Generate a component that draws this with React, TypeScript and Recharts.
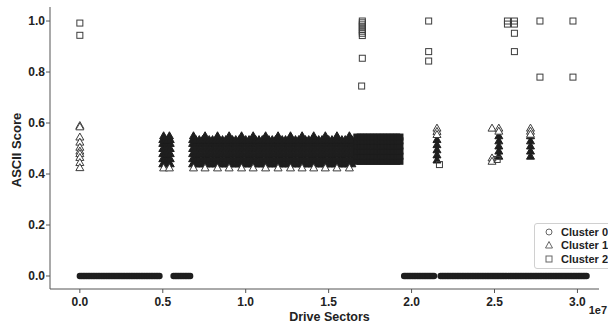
import React from "react";
import { ScatterChart, Scatter, XAxis, YAxis, Label, Legend } from "recharts";

// sector positions are in units of 1e7
const xTicks = [0, 0.5, 1.0, 1.5, 2.0, 2.5, 3.0];
const yTicks = [0, 0.2, 0.4, 0.6, 0.8, 1.0];

// cluster 0: all at score 0
const cluster0Sectors = [
  0, 0.01, 0.02, 0.03, 0.04, 0.05, 0.06, 0.07, 0.08, 0.09, 0.1, 0.11, 0.12, 0.13, 0.14, 0.15, 0.16, 0.17, 0.18, 0.19,
  0.2, 0.21, 0.22, 0.23, 0.24, 0.25, 0.26, 0.27, 0.28, 0.29, 0.3, 0.31, 0.32, 0.33, 0.34, 0.35, 0.36, 0.37, 0.38, 0.39,
  0.4, 0.41, 0.42, 0.43, 0.44, 0.45, 0.46, 0.47, 0.48,
  0.565, 0.575, 0.585, 0.595, 0.605, 0.615, 0.625, 0.635, 0.645, 0.655, 0.665,
  1.955, 1.965, 1.975, 1.985, 1.995, 2.005, 2.015, 2.025, 2.035, 2.045, 2.055, 2.065, 2.075, 2.085, 2.095, 2.105,
  2.115, 2.125, 2.135,
  2.175, 2.185, 2.195, 2.205, 2.215, 2.225, 2.235, 2.245, 2.255, 2.265, 2.275, 2.285, 2.295, 2.305, 2.315, 2.325,
  2.335, 2.345, 2.355, 2.365, 2.375, 2.385, 2.395, 2.405, 2.415, 2.425, 2.435, 2.445, 2.455, 2.465, 2.475, 2.485,
  2.495, 2.505, 2.515, 2.525, 2.535, 2.545, 2.555, 2.565, 2.575, 2.585, 2.595, 2.605, 2.615, 2.625, 2.635, 2.645,
  2.655, 2.665, 2.675, 2.685, 2.695, 2.705, 2.715, 2.725, 2.735, 2.745, 2.755, 2.765, 2.775, 2.785, 2.795, 2.805,
  2.815, 2.825, 2.835, 2.845, 2.855, 2.865, 2.875, 2.885, 2.895, 2.905, 2.915, 2.925, 2.935, 2.945, 2.955, 2.965,
  2.975, 2.985, 2.995, 3.005, 3.015, 3.025, 3.035, 3.045, 3.055,
];
const cluster0Score = 0;

// cluster 1 dense band
const bandSectors = [
  0.68, 0.7, 0.72, 0.74, 0.76, 0.78, 0.8, 0.82, 0.84, 0.86, 0.88, 0.9, 0.92, 0.94, 0.96, 0.98, 1.0, 1.02, 1.04, 1.06,
  1.08, 1.1, 1.12, 1.14, 1.16, 1.18, 1.2, 1.22, 1.24, 1.26, 1.28, 1.3, 1.32, 1.34, 1.36, 1.38, 1.4, 1.42, 1.44, 1.46,
  1.48, 1.5, 1.52, 1.54, 1.56, 1.58, 1.6, 1.62, 1.64,
];
const blobSectors = [0.5, 0.515, 0.53, 0.545];
const bandScores = [0.44, 0.46, 0.48, 0.5, 0.52, 0.535];
const peakSectors = [0.505, 0.54, 0.685, 0.755, 0.83, 0.9, 0.975, 1.045, 1.12, 1.195, 1.27, 1.34, 1.41, 1.48, 1.55, 1.625];
const peakScore = 0.55;
const floorScore = 0.424;
const columnSectors = [2.153, 2.526, 2.717];
const columnScores = [
  [0.455, 0.475, 0.495, 0.515, 0.535],
  [0.47, 0.49, 0.51, 0.53, 0.55],
  [0.47, 0.49, 0.51, 0.53, 0.55],
];

// cluster 1 sparse points
const c1Sectors = [0, 0, 0, 0, 0, 0, 0, 0, 0, 0, 2.153, 2.153, 2.153, 2.485, 2.485, 2.485, 2.526, 2.526, 2.717, 2.717, 2.717];
const c1Scores = [0.59, 0.585, 0.545, 0.525, 0.505, 0.49, 0.48, 0.465, 0.445, 0.425, 0.58, 0.567, 0.555, 0.58, 0.463, 0.45, 0.58, 0.568, 0.58, 0.568, 0.556];

// cluster 2 dense band
const sqBandSectors = [1.67, 1.69, 1.71, 1.73, 1.75, 1.77, 1.79, 1.81, 1.83, 1.85, 1.87, 1.89, 1.91, 1.93];
const sqBandScores = [0.45, 0.47, 0.49, 0.51, 0.53, 0.545];

// cluster 2 sparse points
const c2Sectors = [0, 0, 1.703, 1.703, 1.703, 1.703, 1.703, 1.703, 1.703, 1.703, 1.703, 1.699, 2.103, 2.103, 2.103, 2.168, 2.516, 2.578, 2.578, 2.62, 2.62, 2.62, 2.62, 2.774, 2.774, 2.973, 2.973];
const c2Scores = [0.992, 0.944, 1.0, 0.993, 0.985, 0.977, 0.968, 0.96, 0.952, 0.943, 0.854, 0.745, 1.0, 0.88, 0.843, 0.437, 0.457, 1.0, 0.988, 1.0, 0.988, 0.952, 0.88, 1.0, 0.78, 1.0, 0.78];

const cluster0Data = cluster0Sectors.map((x) => ({ x, y: cluster0Score }));
const cluster1Dense = [
  ...bandScores.flatMap((y) => bandSectors.map((x) => ({ x, y }))),
  ...bandScores.flatMap((y) => blobSectors.map((x) => ({ x, y }))),
  ...peakSectors.map((x) => ({ x, y: peakScore })),
  ...columnSectors.flatMap((x, i) => columnScores[i].map((y) => ({ x, y }))),
];
const cluster1Sparse = [
  ...c1Sectors.map((x, i) => ({ x, y: c1Scores[i] })),
  ...peakSectors.map((x) => ({ x, y: floorScore })),
];
const cluster2Dense = sqBandScores.flatMap((y) => sqBandSectors.map((x) => ({ x, y })));
const cluster2Sparse = c2Sectors.map((x, i) => ({ x, y: c2Scores[i] }));

const FONT = "'Liberation Sans', Arial, sans-serif";
const DARK = "#1e1e1e";
const EDGE = "#3c3c3c";

const dot = (p: any) => <circle cx={p.cx} cy={p.cy} r={3.2} fill={DARK} stroke="none" />;
const triPath = (cx: number, cy: number) => `M${cx},${cy - 4}L${cx + 4},${cy + 3}L${cx - 4},${cy + 3}Z`;
const solidTri = (p: any) => <path d={triPath(p.cx, p.cy)} fill={DARK} stroke={DARK} strokeWidth={1} />;
const openTri = (p: any) => <path d={triPath(p.cx, p.cy)} fill="#fff" stroke={EDGE} strokeWidth={1} />;
const solidSq = (p: any) => <rect x={p.cx - 3} y={p.cy - 3} width={6} height={6} fill={DARK} stroke={DARK} />;
const openSq = (p: any) => <rect x={p.cx - 3} y={p.cy - 3} width={6} height={6} fill="none" stroke={EDGE} />;

const legendItems = ["Cluster 0", "Cluster 1", "Cluster 2"];

function LegendBox() {
  const icon = (i: number) => {
    if (i === 0) return <circle cx={6} cy={6} r={3} fill="none" stroke="#666" />;
    if (i === 1) return <path d="M6,2.5L9.5,9L2.5,9Z" fill="none" stroke="#666" />;
    return <rect x={3} y={3} width={6} height={6} fill="none" stroke="#666" />;
  };
  return (
    <div
      style={{
        border: "1px solid #d0d0d0",
        borderRadius: 3,
        background: "rgba(255,255,255,0.85)",
        padding: "1px 0 2px 8px",
        width: 80,
        boxSizing: "border-box",
        fontFamily: FONT,
        fontWeight: "bold",
        fontSize: 11,
        color: "#222",
      }}
    >
      {legendItems.map((name, i) => (
        <div key={name} style={{ display: "flex", alignItems: "center", height: 13.5 }}>
          <svg width={12} height={12} style={{ marginRight: 6 }}>
            {icon(i)}
          </svg>
          <span>{name}</span>
        </div>
      ))}
    </div>
  );
}

export default function App() {
  const tickStyle = { fill: "#222", fontSize: 12, fontWeight: "bold", fontFamily: FONT };
  return (
    <div style={{ position: "absolute", left: 0, top: 0, width: 608, height: 322, overflow: "hidden", background: "#fff" }}>
      <ScatterChart width={608} height={322} margin={{ top: 7, right: 9, bottom: 0, left: 0 }}>
        <XAxis
          type="number"
          dataKey="x"
          domain={[-0.18, 3.13]}
          ticks={xTicks}
          tickFormatter={(v: number) => v.toFixed(1)}
          allowDataOverflow
          height={33}
          tick={tickStyle}
          tickSize={4}
          tickMargin={4}
          axisLine={{ stroke: "#555" }}
          tickLine={{ stroke: "#555" }}
        >
          <Label
            content={(props: any) => {
              const vb = props.viewBox || { x: 50, width: 549 };
              return (
                <g fontFamily={FONT} fontWeight="bold" fill="#222">
                  <text x={vb.x + vb.width / 2 + 5} y={320.5} textAnchor="middle" fontSize={12.5}>
                    Drive Sectors
                  </text>
                  <text x={607} y={314} textAnchor="end" fontSize={11}>
                    1e7
                  </text>
                </g>
              );
            }}
          />
        </XAxis>
        <YAxis
          type="number"
          dataKey="y"
          domain={[-0.051, 1.055]}
          ticks={yTicks}
          tickFormatter={(v: number) => v.toFixed(1)}
          allowDataOverflow
          width={50}
          tick={tickStyle}
          tickSize={4}
          tickMargin={1}
          axisLine={{ stroke: "#555" }}
          tickLine={{ stroke: "#555" }}
        >
          <Label
            content={() => (
              <text
                x={0}
                y={0}
                transform="translate(21,150) rotate(-90)"
                textAnchor="middle"
                fontFamily={FONT}
                fontWeight="bold"
                fontSize={13}
                fill="#222"
              >
                ASCII Score
              </text>
            )}
          />
        </YAxis>
        <Scatter name="Cluster 0" data={cluster0Data} shape={dot} isAnimationActive={false} />
        <Scatter name="Cluster 1" data={cluster1Dense} shape={solidTri} isAnimationActive={false} />
        <Scatter name="Cluster 1 " data={cluster1Sparse} shape={openTri} isAnimationActive={false} />
        <Scatter name="Cluster 2" data={cluster2Dense} shape={solidSq} isAnimationActive={false} />
        <Scatter name="Cluster 2 " data={cluster2Sparse} shape={openSq} isAnimationActive={false} />
        <Legend
          layout="vertical"
          align="center"
          verticalAlign="middle"
          wrapperStyle={{ left: 534, top: 223, width: 80 }}
          content={() => <LegendBox />}
        />
      </ScatterChart>
    </div>
  );
}
